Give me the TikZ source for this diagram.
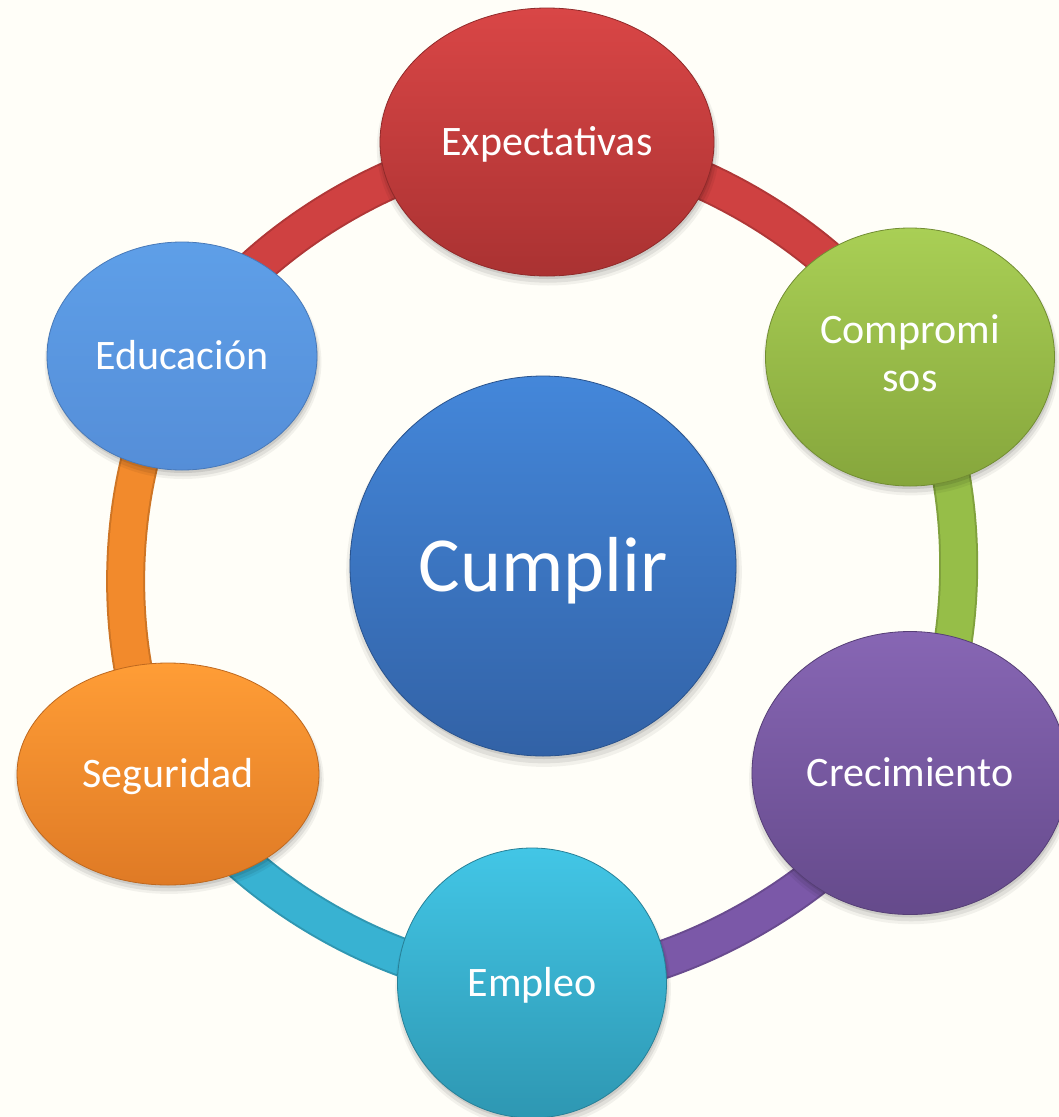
\documentclass[tikz,border=0pt]{standalone}
\usepackage{fontspec}
\setmainfont{Carlito}
\usetikzlibrary{shapes.geometric,shadows}
\pgfdeclarelayer{bg}
\pgfdeclarelayer{back}
\pgfsetlayers{bg,back,main}
\definecolor{paper}{HTML}{FFFEF8}
\definecolor{redT}{HTML}{D94646}
\definecolor{redB}{HTML}{AA3232}
\definecolor{redL}{HTML}{CF4141}
\definecolor{grnT}{HTML}{A9CF55}
\definecolor{grnB}{HTML}{86A63C}
\definecolor{grnL}{HTML}{96BE48}
\definecolor{purT}{HTML}{8766B4}
\definecolor{purB}{HTML}{654A8B}
\definecolor{purL}{HTML}{7B58A8}
\definecolor{tealT}{HTML}{42C6E6}
\definecolor{tealB}{HTML}{2E97B2}
\definecolor{tealL}{HTML}{38B2D2}
\definecolor{orgT}{HTML}{FF9D36}
\definecolor{orgB}{HTML}{DF7A25}
\definecolor{orgL}{HTML}{F28A2C}
\definecolor{eduT}{HTML}{5E9FE8}
\definecolor{eduB}{HTML}{558ED8}
\definecolor{cumT}{HTML}{4487DA}
\definecolor{cumB}{HTML}{3262A6}
\begin{document}
\begin{tikzpicture}[x=1pt,y=1pt,
  softshadow/.style={
    general shadow={fill=black, opacity=0.05, shadow yshift=-6pt, shadow xshift=1pt, shadow scale=1.025},
    general shadow={fill=black, opacity=0.07, shadow yshift=-5pt, shadow xshift=1pt, shadow scale=1.012},
    general shadow={fill=black, opacity=0.09, shadow yshift=-3pt, shadow xshift=1pt}},
  bubble/.style 2 args={ellipse, inner sep=0pt, text=white,
    softshadow, top color=#1, bottom color=#2, draw=#2!85!black, line width=0.8pt,
    font=\fontsize{42}{50}\selectfont},
  capc/.style={text height=27pt, text depth=0pt},
  band/.style={line width=39pt, draw=#1!85!black,
    postaction={draw=#1, line width=35pt}, bend left=30, looseness=0.8},
]
\useasboundingbox (0,0) rectangle (1059,-1117);
\begin{pgfonlayer}{bg}
\fill[paper] (0,0) rectangle (1059,-1117);
\end{pgfonlayer}

\node[bubble={redT}{redB}, capc, minimum width=334pt, minimum height=268pt] (expe) at (547,-142) {Expectativas};
\node[bubble={grnT}{grnB}, align=center, font=\fontsize{42}{48}\selectfont, text height=68pt, text depth=0pt, minimum width=289pt, minimum height=258pt] (comp) at (910,-357) {Compromi\\sos};
\node[bubble={purT}{purB}, capc, minimum width=316pt, minimum height=283pt] (crec) at (910,-773) {Crecimiento};
\node[bubble={tealT}{tealB}, capc, minimum width=269pt, minimum height=270pt] (empl) at (532,-983) {Empleo};
\node[bubble={orgT}{orgB}, capc, minimum width=302pt, minimum height=222pt] (segu) at (168,-774) {Seguridad};
\node[bubble={eduT}{eduB}, capc, minimum width=270pt, minimum height=228pt] (educ) at (182,-356) {Educación};
\node[bubble={cumT}{cumB}, font=\fontsize{78}{94}\selectfont, text height=50pt, text depth=0pt, minimum width=386pt, minimum height=380pt] (cump) at (543,-566) {Cumplir};

\begin{pgfonlayer}{back}
\draw[band=redL] (educ.center) to (expe.center);
\draw[band=redL] (expe.center) to (comp.center);
\draw[band=grnL] (comp.center) to (crec.center);
\draw[band=purL] (crec.center) to (empl.center);
\draw[band=tealL] (empl.center) to (segu.center);
\draw[band=orgL] (segu.center) to (educ.center);
\end{pgfonlayer}
\end{tikzpicture}
\end{document}
